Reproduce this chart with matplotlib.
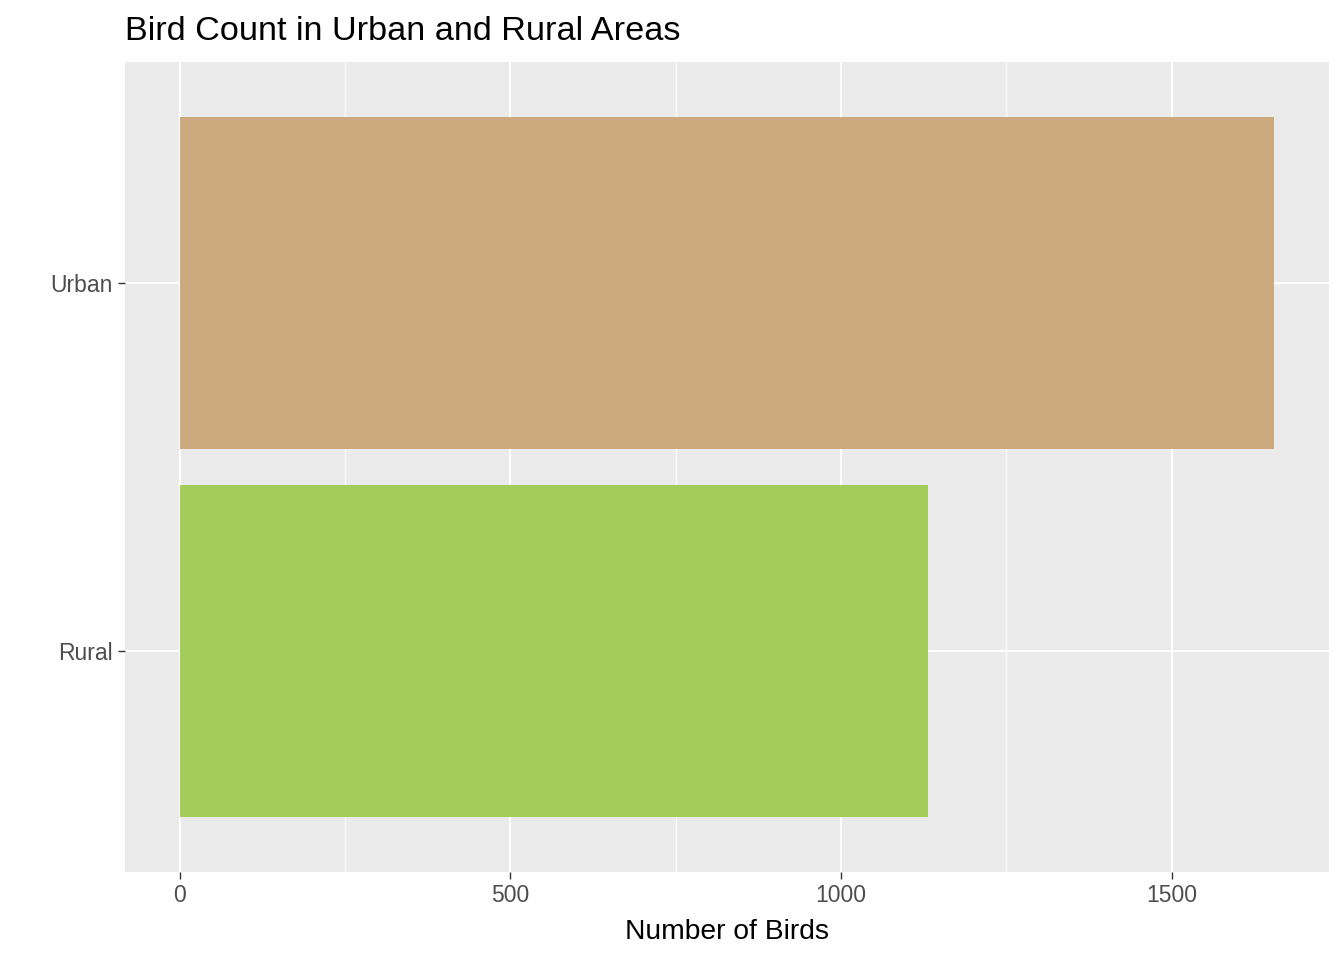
import matplotlib
matplotlib.use("Agg")
import matplotlib.pyplot as plt

plt.rcParams['font.family'] = ['Liberation Sans', 'DejaVu Sans']

# data
areas = ["Rural", "Urban"]
birds = [1131, 1655]
colors = ["#A2CD5A", "#CDAA7D"]
xticks = [0, 500, 1000, 1500]
minor_xticks = [250, 750, 1250]

fig = plt.figure(figsize=(13.44, 9.6), dpi=100)
ax = fig.add_axes([125/1344, 88/960, 1204/1344, 810/960])
ax.set_facecolor("#EBEBEB")

ypos = list(range(1, len(areas) + 1))
ax.barh(ypos, birds, height=0.9, color=colors, zorder=3)

xmax = max(birds)
pad = 0.05 * xmax
ax.set_xlim(-pad, xmax + pad)
ax.set_ylim(0.4, len(areas) + 0.6)

ax.set_xticks(xticks)
ax.set_xticks(minor_xticks, minor=True)
ax.set_yticks(ypos)
ax.set_yticklabels(areas)

ax.grid(which="major", color="white", linewidth=1.5, zorder=0)
ax.grid(which="minor", axis="x", color="white", linewidth=0.75, zorder=0)
ax.set_axisbelow(True)

for s in ax.spines.values():
    s.set_visible(False)

ax.tick_params(which="major", length=5, width=1.0, color="#333333",
               labelsize=16.5, labelcolor="#4D4D4D", pad=4)
ax.tick_params(which="minor", length=0)

ax.set_xlabel("Number of Birds", fontsize=20.3, color="black", labelpad=8)
fig.text(125/1344, 1 - 31/960, "Bird Count in Urban and Rural Areas",
         fontsize=24.7, color="black", ha="left", va="center")

fig.savefig("out.png", dpi=100)
